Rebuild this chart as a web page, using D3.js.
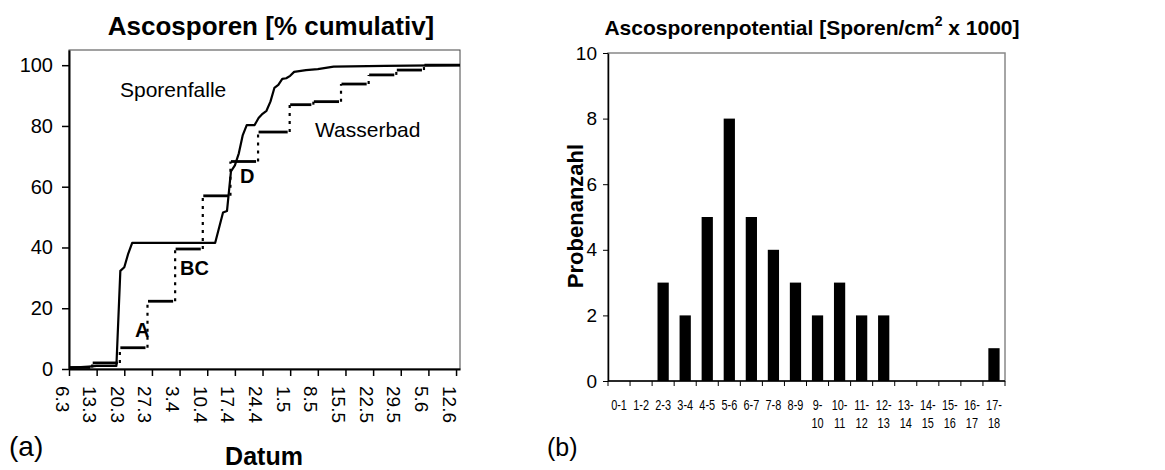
<!DOCTYPE html>
<html>
<head>
<meta charset="utf-8">
<script src="https://cdn.jsdelivr.net/npm/d3@7"></script>
<style>
  body { margin: 0; background: #fff; }
  svg { font-family: Arial, "Liberation Sans", sans-serif; }
  .axis path, .axis line { stroke: #000; }
  .axis text { fill: #000; }
</style>
</head>
<body>
<svg width="1165" height="470"></svg>
<script>
// panel (a): cumulative ascospores
const dateTicks = ["6.3", "13.3", "20.3", "27.3", "3.4", "10.4", "17.4", "24.4",
  "1.5", "8.5", "15.5", "22.5", "29.5", "5.6", "12.6"];

const fallenDates = ["6.3", "11.3", "13.3", "18.3", "19.3", "20.3", "21.3", "22.3",
  "12.4", "14.4", "15.4", "16.4", "17.4", "18.4", "19.4", "20.4", "22.4", "23.4",
  "24.4", "25.4", "26.4", "27.4", "28.4", "29.4", "30.4", "1.5", "2.5", "5.5",
  "8.5", "12.5", "25.5", "13.6"];
const fallenValues = [0.4, 0.8, 1.0, 1.0, 32.3, 33.5, 38, 41.5,
  41.5, 51.5, 52, 65, 67, 71, 77, 80.3, 80.3, 82.6,
  84, 85, 88, 92.5, 93.5, 95.5, 95.7, 96.5, 97.8, 98.4,
  98.7, 99.5, 99.8, 100];

const bathDates = ["6.3", "12.3", "19.3", "26.3", "2.4", "9.4", "16.4", "23.4",
  "1.5", "7.5", "14.5", "21.5", "28.5", "4.6"];
const bathValues = [0.5, 2, 7, 22.3, 39.5, 57, 68.3, 78, 87, 88, 93.8, 96.8, 98.4, 100];
const bathEnd = "13.6";

const percentTicks = [0, 20, 40, 60, 80, 100];

// panel (b): spore potential histogram
const classes = ["0-1", "1-2", "2-3", "3-4", "4-5", "5-6", "6-7", "7-8", "8-9", "9-10",
  "10-11", "11-12", "12-13", "13-14", "14-15", "15-16", "16-17", "17-18"];
const sampleCounts = [0, 0, 3, 2, 5, 8, 5, 4, 3, 2, 3, 2, 2, 0, 0, 0, 0, 1];
const countTicks = [0, 2, 4, 6, 8, 10];

const parseDay = s => d3.timeParse("%d.%m.%Y")(s + ".2001");
const svg = d3.select("svg");

// ---------- (a) ----------
const x = d3.scaleTime()
  .domain([parseDay("6.3"), parseDay("13.6")])
  .range([69, 460]);
const y = d3.scaleLinear().domain([0, 105]).range([369, 50]);

svg.append("rect")
  .attr("x", 69).attr("y", 50)
  .attr("width", 460 - 69).attr("height", 369 - 50)
  .attr("fill", "none").attr("stroke", "#444").attr("stroke-width", 1);

const yAxisA = svg.append("g")
  .attr("class", "axis")
  .attr("transform", "translate(69,0)")
  .call(d3.axisLeft(y).tickValues(percentTicks).tickSize(7).tickPadding(9).tickSizeOuter(0));
yAxisA.select(".domain").attr("stroke-width", 2);
yAxisA.selectAll(".tick line").attr("stroke-width", 1.5);
yAxisA.selectAll("text").attr("font-size", 20).attr("font-family", "Arial, 'Liberation Sans'");

const xAxisA = svg.append("g")
  .attr("class", "axis")
  .attr("transform", "translate(0,369)")
  .call(d3.axisBottom(x).tickValues(dateTicks.map(parseDay)).tickSize(7).tickSizeOuter(0)
    .tickFormat(d3.timeFormat("%-d.%-m")));
xAxisA.select(".domain").attr("stroke-width", 2);
xAxisA.selectAll(".tick line").attr("stroke-width", 1.5);
xAxisA.selectAll("text")
  .attr("font-size", 19).attr("font-family", "Arial, 'Liberation Sans'")
  .attr("text-anchor", "start")
  .attr("transform", "translate(0,17) rotate(90)")
  .attr("x", 0).attr("y", 14).attr("dy", 0);

// Sporenfalle: solid line
const line = d3.line()
  .x((d, i) => x(parseDay(fallenDates[i])))
  .y(d => y(d));
svg.append("path")
  .datum(fallenValues)
  .attr("d", line)
  .attr("fill", "none")
  .attr("stroke", "#000")
  .attr("stroke-width", 2.2)
  .attr("stroke-linejoin", "round");

// Wasserbad: solid horizontal steps joined by dotted risers
const bathX = bathDates.concat([bathEnd]).map(parseDay).map(x);
svg.append("g")
  .selectAll("line")
  .data(bathValues)
  .join("line")
  .attr("x1", (d, i) => bathX[i])
  .attr("x2", (d, i) => i === bathValues.length - 1 ? bathX[i + 1] : bathX[i + 1] - 2.5)
  .attr("y1", d => y(d))
  .attr("y2", d => y(d))
  .attr("stroke", "#000")
  .attr("stroke-width", 2.8);

svg.append("g")
  .selectAll("line")
  .data(bathValues.slice(1))
  .join("line")
  .attr("x1", (d, i) => bathX[i + 1] - 0.5)
  .attr("x2", (d, i) => bathX[i + 1] - 0.5)
  .attr("y1", (d, i) => y(bathValues[i]))
  .attr("y2", d => y(d))
  .attr("stroke", "#000")
  .attr("stroke-width", 2.2)
  .attr("stroke-dasharray", "3,5");

svg.append("text").attr("x", 120).attr("y", 97)
  .attr("font-size", 21).text("Sporenfalle");
svg.append("text").attr("x", 315).attr("y", 137)
  .attr("font-size", 21).text("Wasserbad");

const markLabels = [["A", 135, 337], ["BC", 180, 275], ["D", 240, 183]];
svg.append("g")
  .selectAll("text")
  .data(markLabels)
  .join("text")
  .attr("x", d => d[1]).attr("y", d => d[2])
  .attr("font-size", 20).attr("font-weight", "bold")
  .text(d => d[0]);

svg.append("text").attr("x", 271).attr("y", 35)
  .attr("text-anchor", "middle").attr("font-size", 26).attr("font-weight", "bold")
  .text("Ascosporen [% cumulativ]");
svg.append("text").attr("x", 264).attr("y", 465)
  .attr("text-anchor", "middle").attr("font-size", 25).attr("font-weight", "bold")
  .text("Datum");
svg.append("text").attr("x", 9).attr("y", 456)
  .attr("font-size", 28).text("(a)");

// ---------- (b) ----------
const xb = d3.scaleBand()
  .domain(classes)
  .range([608, 1005])
  .paddingInner(0.49)
  .paddingOuter(0.245);
const yb = d3.scaleLinear().domain([0, 10]).range([381, 53]);

svg.append("rect")
  .attr("x", 608).attr("y", 53)
  .attr("width", 1005 - 608).attr("height", 381 - 53)
  .attr("fill", "none").attr("stroke", "#888").attr("stroke-width", 1.5);

svg.append("g")
  .selectAll("rect")
  .data(sampleCounts)
  .join("rect")
  .attr("x", (d, i) => xb(classes[i]))
  .attr("y", d => yb(d))
  .attr("width", xb.bandwidth())
  .attr("height", d => yb(0) - yb(d))
  .attr("fill", "#000");

const yAxisB = svg.append("g")
  .attr("class", "axis")
  .attr("transform", "translate(608,0)")
  .call(d3.axisLeft(yb).tickValues(countTicks).tickSize(5).tickPadding(6).tickSizeOuter(0));
yAxisB.select(".domain").attr("stroke-width", 1.5);
yAxisB.selectAll("text").attr("font-size", 19).attr("font-family", "Arial, 'Liberation Sans'");

// class boundaries carry the tick marks
const step = xb.step();
const bounds = d3.range(classes.length + 1).map(i => 608 + i * step);
svg.append("line")
  .attr("x1", 608).attr("x2", 1005).attr("y1", 381).attr("y2", 381)
  .attr("stroke", "#000").attr("stroke-width", 1.5);
svg.append("g")
  .selectAll("line")
  .data(bounds)
  .join("line")
  .attr("x1", d => d).attr("x2", d => d)
  .attr("y1", 381).attr("y2", 386)
  .attr("stroke", "#000");

// narrow labels, squeezed like the original
const classLabels = svg.append("g")
  .selectAll("text")
  .data(classes)
  .join("text")
  .attr("transform", d => `translate(${xb(d) + xb.bandwidth() / 2},410) scale(0.78,1)`)
  .attr("text-anchor", "middle")
  .attr("font-size", 14);
classLabels.each(function (d) {
  const parts = d.split("-");
  const t = d3.select(this);
  if (parts[0].length > 1 || parts[1].length > 1) {
    t.append("tspan").attr("x", 0).attr("y", 0).text(parts[0] + "-");
    t.append("tspan").attr("x", 0).attr("y", 18).text(parts[1]);
  } else {
    t.text(d);
  }
});

svg.append("text")
  .attr("transform", "translate(583,216) rotate(-90)")
  .attr("text-anchor", "middle")
  .attr("font-size", 22).attr("font-weight", "bold")
  .text("Probenanzahl");

const titleB = svg.append("text").attr("x", 812).attr("y", 35)
  .attr("text-anchor", "middle").attr("font-size", 21).attr("font-weight", "bold");
titleB.append("tspan").text("Ascosporenpotential [Sporen/cm");
titleB.append("tspan").attr("dy", -9).attr("font-size", 14).text("2");
titleB.append("tspan").attr("dy", 9).text(" x 1000]");

svg.append("text").attr("x", 547).attr("y", 456)
  .attr("font-size", 25).text("(b)");
</script>
</body>
</html>
